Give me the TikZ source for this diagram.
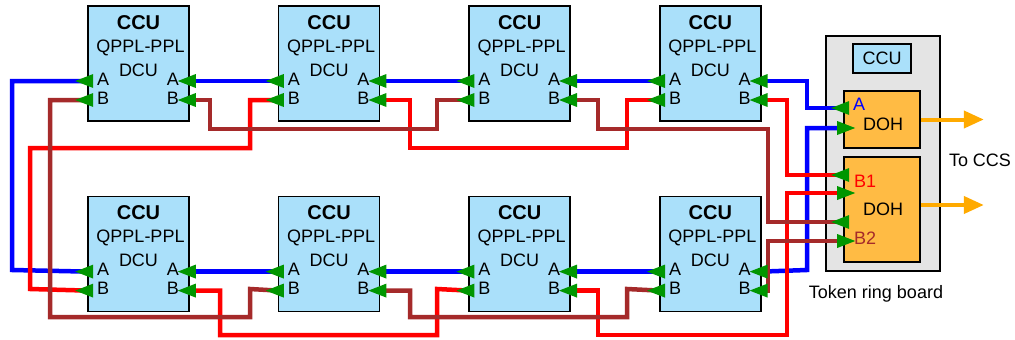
\documentclass[tikz,border=0pt]{standalone}
\usepackage{fontspec}
\setmainfont{Liberation Sans}
\usetikzlibrary{positioning,arrows.meta,calc}
\definecolor{ccublue}{RGB}{170,224,250}
\definecolor{dohorange}{RGB}{255,187,68}
\definecolor{boardgray}{RGB}{228,228,228}
\definecolor{ringbrown}{RGB}{165,42,42}
\definecolor{portgreen}{RGB}{0,150,0}
\definecolor{ccsorange}{RGB}{255,170,0}

\tikzset{
  ccubox/.style={rectangle, draw=black, line width=1.6pt, fill=ccublue, minimum width=101pt, minimum height=115pt, inner sep=0pt},
  dohbox/.style={rectangle, draw=black, line width=1.6pt, fill=dohorange, minimum width=76pt, inner sep=0pt},
  wireA/.style={draw=blue, line width=4.5pt},
  wireR/.style={draw=red, line width=4.5pt},
  wireB/.style={draw=ringbrown, line width=4.5pt},
  port/.pic={\fill[portgreen] (-12,0) -- (6,-7) -- (6,7) -- cycle;},
}

\begin{document}
\begin{tikzpicture}[x=1pt, y=-1pt, every node/.style={font=\fontsize{18}{21}\selectfont, inner sep=0pt}]
  \useasboundingbox (0,0) rectangle (1015,340);

  % token ring board
  \node[rectangle, draw=black, line width=1.5pt, fill=boardgray, minimum width=114pt, minimum height=235pt, anchor=north west] (board) at (825,35) {};
  \node[rectangle, draw=black, line width=1.5pt, fill=ccublue, minimum width=58pt, minimum height=29pt] (bccu) at (882,58.5) {CCU};
  \node[dohbox, minimum height=57pt] (D1) at (882,119.5) {};
  \node[dohbox, minimum height=105pt] (D2) at (882,209.5) {};
  \node[anchor=base] at (883,130) {DOH};
  \node[anchor=base] at (883,215) {DOH};
  \node[anchor=base west, text=blue] at (853,110) {A};
  \node[anchor=base west, text=red] at (854,187) {B1};
  \node[anchor=base west, text=ringbrown] at (854,244) {B2};
  \coordinate (D1-aout) at ($(D1.west)+(0,-11.5)$);
  \coordinate (D1-ain) at ($(D1.west)+(0,8.5)$);
  \coordinate (D2-b1out) at ($(D2.west)+(0,-34.5)$);
  \coordinate (D2-b1in) at ($(D2.west)+(0,-16.5)$);
  \coordinate (D2-b2out) at ($(D2.west)+(0,12.5)$);
  \coordinate (D2-b2in) at ($(D2.west)+(0,31.5)$);

  % CCU boxes
  \node[ccubox] (T1) at (138.5,63.5) {};
  \node[ccubox, right=88pt of T1] (T2) {};
  \node[ccubox, right=88pt of T2] (T3) {};
  \node[ccubox, right=88pt of T3] (T4) {};
  \node[ccubox, below=74pt of T1] (B1) {};
  \node[ccubox, below=74pt of T2] (B2) {};
  \node[ccubox, below=74pt of T3] (B3) {};
  \node[ccubox, below=74pt of T4] (B4) {};
  \foreach \b in {T1,T2,T3,T4,B1,B2,B3,B4} {
    \node[anchor=base, font=\fontsize{20}{24}\selectfont\bfseries] at ($(\b.north)+(0,24)$) {CCU};
    \node[anchor=base] at ($(\b.north)+(2,47)$) {QPPL-PPL};
    \node[anchor=base] at ($(\b.north)+(0,71)$) {DCU};
    \node[anchor=base] at ($(\b.north west)+(16,80)$) {A};
    \node[anchor=base] at ($(\b.north west)+(16,99)$) {B};
    \node[anchor=base] at ($(\b.north east)+(-17,80)$) {A};
    \node[anchor=base] at ($(\b.north east)+(-17,99)$) {B};
    \coordinate (\b-la) at ($(\b.west)+(0,17.5)$);
    \coordinate (\b-lb) at ($(\b.west)+(0,36.5)$);
    \coordinate (\b-ra) at ($(\b.east)+(0,17.5)$);
    \coordinate (\b-rb) at ($(\b.east)+(0,36.5)$);
  }

  % ring A
  \draw[wireA] (T1-la) -| (12,270) -- (B1-la);
  \foreach \p/\q in {T1/T2,T2/T3,T3/T4,B1/B2,B2/B3,B3/B4}
    \draw[wireA] (\p-ra) -- (\q-la);
  \draw[wireA] (T4-ra) -| (807,108) -- (D1-aout);
  \draw[wireA] (D1-ain) -| (807,270) -- (B4-ra);

  % ring B
  \draw[wireR] (T2-lb) -| (250,148) -| (30,289) -- (B1-lb);
  \draw[wireR] (T2-rb) -| (410,148) -| (627,100) -- (T4-lb);
  \draw[wireR] (T4-rb) -| (787,175) -- (D2-b1out);
  \draw[wireR] (B1-rb) -| (220,335) -| (437,289) -- (B3-lb);
  \draw[wireR] (B3-rb) -| (598,335) -| (787,193) -- (D2-b1in);
  \draw[wireB] (T1-lb) -| (50,317) -| (250,289) -- (B2-lb);
  \draw[wireB] (T1-rb) -| (210,129) -| (437,100) -- (T3-lb);
  \draw[wireB] (T3-rb) -| (598,129) -| (768,222) -- (D2-b2out);
  \draw[wireB] (B2-rb) -| (410,317) -| (627,289) -- (B4-lb);
  \draw[wireB] (B4-rb) -| (768,241) -- (D2-b2in);

  % port tips
  \foreach \b in {T1,T2,T3,T4,B1,B2,B3,B4}
    \foreach \s in {la,lb,ra,rb}
      \pic at (\b-\s) {port};
  \pic at (D1-aout) {port};
  \pic at (D2-b1out) {port};
  \pic at (D2-b2out) {port};
  \pic[rotate=180] at (D1-ain) {port};
  \pic[rotate=180] at (D2-b1in) {port};
  \pic[rotate=180] at (D2-b2in) {port};

  % to CCS
  \draw[ccsorange, line width=4pt, -{Triangle[length=20pt, width=17pt]}] (D1.east) -- ++(63,0);
  \draw[ccsorange, line width=4pt, -{Triangle[length=20pt, width=17pt]}] ($(D2.east)+(0,-4.5)$) -- ++(63,0);
  \node (ccs) at (980,160) {To CCS};
  \node (trb) at (876,294) {Token ring board};
\end{tikzpicture}
\end{document}
